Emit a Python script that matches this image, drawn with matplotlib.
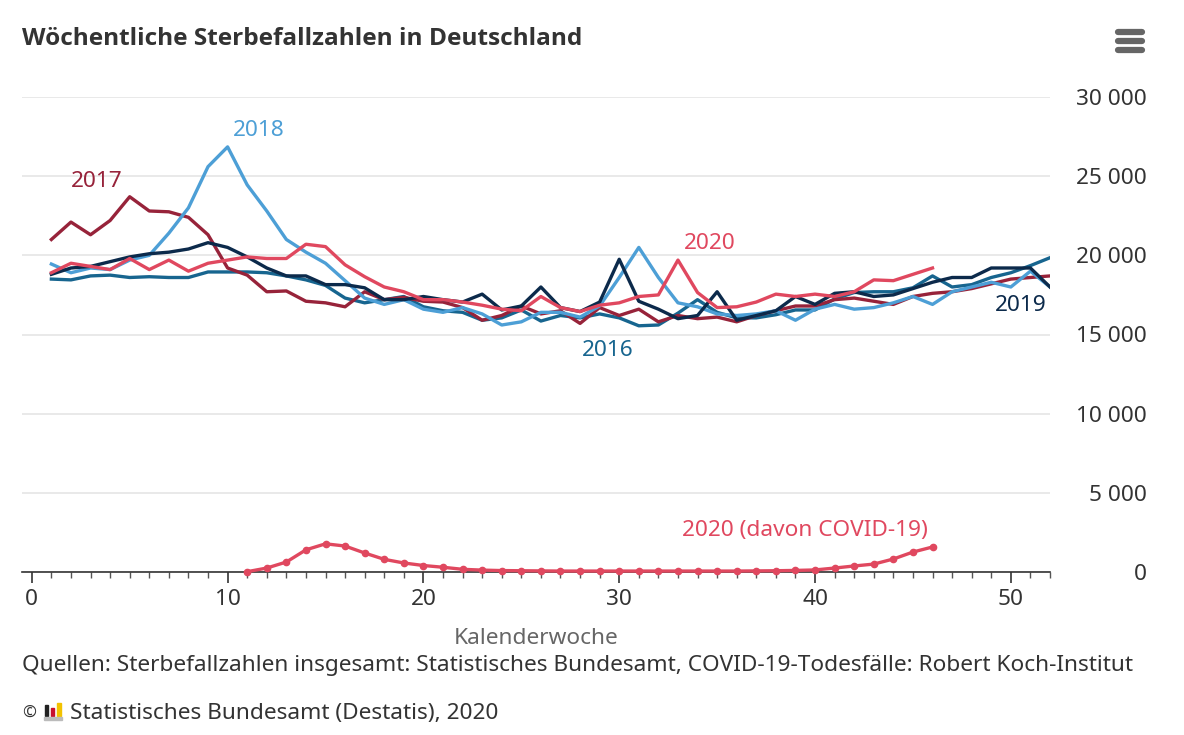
"""
Wöchentliche Sterbefallzahlen in Deutschland (Destatis chart, re-drawn).
"""

import matplotlib
import matplotlib.pyplot as plt
from matplotlib.lines import Line2D
from matplotlib.patches import Rectangle
from matplotlib.ticker import FuncFormatter, MultipleLocator

matplotlib.use("Agg")

plt.rcParams["font.family"] = ["Noto Sans", "DejaVu Sans"]

# Kalenderwochen
weeks = list(range(1, 53))

deaths_2016 = [18500, 18450, 18700, 18750, 18600, 18650, 18600, 18600, 18950, 18950,
               18950, 18900, 18700, 18450, 18100, 17300, 17000, 17200, 17400, 16750,
               16500, 16400, 15900, 16050, 16550, 15850, 16200, 16050, 16300, 16050,
               15550, 15600, 16350, 17200, 16400, 16050, 16050, 16250, 16550, 16550,
               17250, 17650, 17700, 17700, 17950, 18700, 18000, 18150, 18600, 18900,
               19350, 19850]

deaths_2017 = [21000, 22100, 21300, 22200, 23700, 22800, 22750, 22400, 21300, 19200,
               18750, 17700, 17750, 17100, 17000, 16750, 17700, 17200, 17350, 17100,
               17050, 16700, 15900, 16200, 16800, 16300, 16500, 15700, 16700, 16200,
               16600, 15800, 16200, 16000, 16100, 15800, 16200, 16500, 16800, 16800,
               17200, 17300, 17100, 16900, 17400, 17600, 17700, 17900, 18200, 18500,
               18600, 18700]

deaths_2018 = [19450, 18900, 19200, 19100, 19700, 20000, 21400, 23000, 25600, 26850,
               24450, 22800, 21000, 20200, 19500, 18400, 17300, 16900, 17200, 16600,
               16400, 16700, 16300, 15600, 15800, 16400, 16400, 16100, 16800, 18600,
               20500, 18600, 17000, 16750, 16300, 16200, 16300, 16500, 15900, 16600,
               16900, 16600, 16700, 17000, 17400, 16900, 17700, 18000, 18300, 18000,
               19000, 18000]

deaths_2019 = [18800, 19200, 19300, 19600, 19900, 20100, 20200, 20400, 20800, 20500,
               19900, 19200, 18700, 18700, 18150, 18150, 17950, 17200, 17200, 17400,
               17200, 17050, 17550, 16550, 16800, 18000, 16700, 16450, 17050, 19750,
               17100, 16600, 16000, 16200, 17700, 15900, 16200, 16500, 17400, 16900,
               17600, 17700, 17400, 17500, 17900, 18300, 18600, 18600, 19200, 19200,
               19200, 18000]

weeks_2020 = list(range(1, 47))
deaths_2020 = [18900, 19500, 19300, 19100, 19800, 19100, 19700, 19000, 19500, 19700,
               19900, 19800, 19800, 20700, 20550, 19400, 18650, 18000, 17700, 17200,
               17200, 17050, 16850, 16600, 16500, 17400, 16700, 16450, 16850, 17000,
               17400, 17500, 19700, 17650, 16700, 16750, 17050, 17550, 17400, 17550,
               17400, 17700, 18450, 18400, 18800, 19200]

weeks_covid = list(range(11, 47))
covid_2020 = [20, 250, 630, 1400, 1780, 1640, 1200, 800, 570, 410,
              300, 170, 120, 90, 80, 70, 60, 60, 60, 60,
              60, 60, 60, 60, 60, 60, 70, 80, 100, 130,
              250, 380, 500, 820, 1260, 1580]

C16 = "#17658f"
C17 = "#97233a"
C18 = "#4d9fd6"
C19 = "#0c2a4b"
C20 = "#e0485f"
GREY_TEXT = "#333333"
FS = 16.3

fig = plt.figure(figsize=(11.84, 7.35), dpi=100)
ax = fig.add_axes([22 / 1184, 1 - 572 / 735, (1050 - 22) / 1184, (572 - 97) / 735])

lw = 2.4
ax.plot(weeks, deaths_2016, color=C16, lw=lw, zorder=3)
ax.plot(weeks, deaths_2017, color=C17, lw=lw, zorder=3)
ax.plot(weeks, deaths_2018, color=C18, lw=lw, zorder=3)
ax.plot(weeks, deaths_2019, color=C19, lw=lw, zorder=3)
ax.plot(weeks_2020, deaths_2020, color=C20, lw=lw, zorder=4)
ax.plot(weeks_covid, covid_2020, color=C20, lw=lw, marker="o", ms=4.5, zorder=5,
        clip_on=False)

# series labels
lab = dict(fontsize=FS, ha="center", va="center")
ax.text(11.6, 27860, "2018", color=C18, **lab)
ax.text(3.3, 24640, "2017", color=C17, **lab)
ax.text(34.6, 20720, "2020", color=C20, **lab)
ax.text(29.4, 13960, "2016", color=C16, **lab)
ax.text(50.5, 16860, "2019", color=C19, **lab)
ax.text(39.5, 2640, "2020 (davon COVID-19)", color=C20, **lab)

ax.set_xlim(-0.5, 52)
ax.set_ylim(0, 30000)

for s in ["top", "right", "left"]:
    ax.spines[s].set_visible(False)
ax.spines["bottom"].set_color("#333333")
ax.spines["bottom"].set_linewidth(1.2)

ax.xaxis.set_major_locator(MultipleLocator(10))
ax.xaxis.set_minor_locator(MultipleLocator(1))
ax.tick_params(axis="x", which="major", length=8, width=1.2, color="#333333",
               labelsize=FS, labelcolor=GREY_TEXT, pad=4)
ax.tick_params(axis="x", which="minor", length=4, width=1, color="#555555")

ax.yaxis.set_major_locator(MultipleLocator(5000))
ax.yaxis.tick_right()
ax.yaxis.set_major_formatter(FuncFormatter(lambda v, p: f"{v:,.0f}".replace(",", " ")))
ax.tick_params(axis="y", length=0, labelsize=FS, labelcolor=GREY_TEXT, pad=70)
for t in ax.get_yticklabels():
    t.set_horizontalalignment("right")
ax.grid(axis="y", color="#e3e3e3", lw=1.1, zorder=0)
ax.set_axisbelow(True)

fig.text(536 / 1184, 1 - 638 / 735, "Kalenderwoche", ha="center", va="center",
         fontsize=FS, color="#666666")

fig.text(22 / 1184, 1 - 39 / 735, "Wöchentliche Sterbefallzahlen in Deutschland",
         ha="left", va="center", fontsize=17.6, fontweight="bold", color="#333333",
         family=["Open Sans", "DejaVu Sans"])

fig.text(22 / 1184, 1 - 666 / 735,
         "Quellen: Sterbefallzahlen insgesamt: Statistisches Bundesamt, "
         "COVID-19-Todesfälle: Robert Koch-Institut",
         ha="left", va="center", fontsize=FS, color=GREY_TEXT)

fig.text(22 / 1184, 1 - 713 / 735, "©", ha="left", va="center", fontsize=12,
         color=GREY_TEXT)
fig.text(70 / 1184, 1 - 713 / 735, "Statistisches Bundesamt (Destatis), 2020",
         ha="left", va="center", fontsize=FS, color=GREY_TEXT)

# little Destatis logo
W, H = 1184, 735
logo = [(45, 705, 3, 11, "#222222"), (51, 708, 3, 8, "#c8102e"),
        (57, 703, 4, 13, "#f2c200")]
for x0, y0, w, h, c in logo:
    fig.patches.append(Rectangle((x0 / W, 1 - (y0 + h) / H), w / W, h / H,
                                 transform=fig.transFigure, color=c))
fig.patches.append(Rectangle((44 / W, 1 - 720 / H), 18 / W, 3 / H,
                             transform=fig.transFigure, color="#bbbbbb"))

# hamburger menu icon
for yy in (32, 41, 50):
    fig.lines.append(Line2D([1118 / W, 1142 / W], [1 - yy / H, 1 - yy / H],
                            transform=fig.transFigure, color="#666666", lw=4.5,
                            solid_capstyle="round"))

fig.savefig("out.png", dpi=100, facecolor="white")
